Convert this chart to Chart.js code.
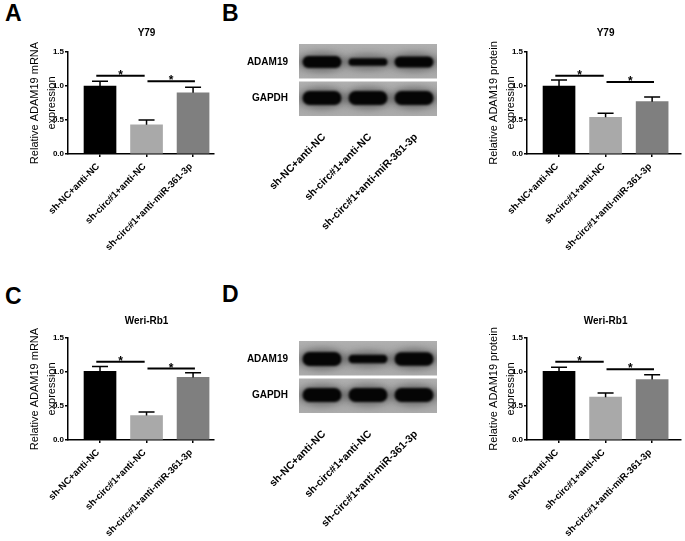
<!DOCTYPE html>
<html lang="en">
<head>
<meta charset="UTF-8">
<title>ADAM19 expression</title>
<style>
  body { margin: 0; background: #fff; width: 685px; height: 541px; position: relative; overflow: hidden; font-family: "Liberation Sans", Arial, sans-serif; }
  canvas { position: absolute; }
  .tag { position: absolute; font-weight: bold; font-size: 23px; line-height: 23px; color: #000; }
</style>
<script src="https://cdn.jsdelivr.net/npm/chart.js"></script>
</head>
<body>
<div class="tag" style="left:5px; top:2px;">A</div>
<div class="tag" style="left:222px; top:2px;">B</div>
<div class="tag" style="left:5px; top:285px;">C</div>
<div class="tag" style="left:222px; top:283px;">D</div>

<canvas id="chartA" width="230" height="265" style="left:0; top:0;"></canvas>
<canvas id="blotB" width="230" height="210" style="left:220px; top:30px;"></canvas>
<canvas id="chartB" width="226" height="265" style="left:459px; top:0;"></canvas>
<canvas id="chartC" width="230" height="265" style="left:0; top:286px;"></canvas>
<canvas id="blotD" width="230" height="210" style="left:220px; top:327px;"></canvas>
<canvas id="chartD" width="226" height="265" style="left:459px; top:286px;"></canvas>

<script>
// groups and tick labels
const groups = ['sh-NC+anti-NC', 'sh-circ#1+anti-NC', 'sh-circ#1+anti-miR-361-3p'];
const yTicks = [0, 0.5, 1.0, 1.5];
const barColors = ['#000000', '#a9a9a9', '#7f7f7f'];

// Y79
const y79Mrna = [1.00, 0.43, 0.90];
const y79MrnaSem = [0.07, 0.07, 0.08];
const y79MrnaSig = [1.15, 1.07];
const y79Protein = [1.00, 0.54, 0.77];
const y79ProteinSem = [0.09, 0.06, 0.07];
const y79ProteinSig = [1.15, 1.06];

// Weri-Rb1
const weriMrna = [1.01, 0.36, 0.92];
const weriMrnaSem = [0.07, 0.05, 0.07];
const weriMrnaSig = [1.15, 1.05];
const weriProtein = [1.01, 0.63, 0.89];
const weriProteinSem = [0.06, 0.06, 0.07];
const weriProteinSig = [1.15, 1.04];

// western blot rows and band strength per lane
const blotRows = ['ADAM19', 'GAPDH'];
const y79Adam19Band = [0.85, 0.55, 0.8];
const y79GapdhBand = [1.0, 1.0, 1.0];
const weriAdam19Band = [1.0, 0.6, 0.95];
const weriGapdhBand = [1.0, 1.0, 1.0];

// comparison brackets: [from, to] in group units
const sigSpans = [[-0.08, 0.96], [1.02, 2.04]];

const FONT = '"Liberation Sans", Arial, sans-serif';
Chart.defaults.font.family = FONT;
Chart.defaults.color = '#000';

const barExtras = {
    id: 'barExtras',
    afterDatasetsDraw(chart, args, o) {
        const { ctx, chartArea, scales: { x, y } } = chart;
        ctx.save();
        ctx.strokeStyle = '#000';
        ctx.lineWidth = 1.5;
        // error bars (upper only)
        o.values.forEach((v, i) => {
            const cx = x.getPixelForValue(i);
            const base = y.getPixelForValue(v);
            const top = y.getPixelForValue(v + o.sem[i]);
            ctx.beginPath();
            ctx.moveTo(cx, base);
            ctx.lineTo(cx, top);
            ctx.moveTo(cx - 8, top);
            ctx.lineTo(cx + 8, top);
            ctx.stroke();
        });
        // significance lines
        ctx.lineWidth = 2;
        ctx.fillStyle = '#000';
        ctx.textAlign = 'center';
        ctx.textBaseline = 'alphabetic';
        ctx.font = 'bold 12px ' + FONT;
        o.sig.forEach((h, k) => {
            const x1 = x.getPixelForValue(sigSpans[k][0]);
            const x2 = x.getPixelForValue(sigSpans[k][1]);
            const yy = y.getPixelForValue(h);
            ctx.beginPath();
            ctx.moveTo(x1, yy);
            ctx.lineTo(x2, yy);
            ctx.stroke();
            ctx.fillText('*', (x1 + x2) / 2, yy + 3);
        });
        // title centred over middle group
        ctx.font = 'bold 10px ' + FONT;
        ctx.textBaseline = 'middle';
        ctx.fillText(o.title, x.getPixelForValue(1), chartArea.top - o.titleGap);
        ctx.restore();
    }
};

function makeBarChart(id, title, yTitle, values, sem, sig, xMax, titleGap) {
    const ctx = document.getElementById(id).getContext('2d');
    return new Chart(ctx, {
        type: 'bar',
        data: {
            datasets: [{
                data: values.map((v, i) => ({ x: i, y: v })),
                backgroundColor: barColors,
                borderWidth: 0,
                barThickness: 32
            }]
        },
        options: {
            responsive: false,
            animation: false,
            layout: { padding: { left: 0, top: 52, right: ctx.canvas.width - 68 - xMax.px, bottom: 0 } },
            scales: {
                x: {
                    type: 'linear',
                    offset: false,
                    min: -0.688,
                    max: xMax.v,
                    afterBuildTicks: s => { s.ticks = groups.map((g, i) => ({ value: i })); },
                    afterFit: s => { s.height = ctx.canvas.height - 154; },
                    ticks: {
                        callback: v => groups[v],
                        autoSkip: false,
                        minRotation: 45,
                        maxRotation: 45,
                        padding: 4,
                        labelOffset: -2,
                        font: { size: 9.5, weight: 'bold' }
                    },
                    grid: { drawOnChartArea: false, offset: false, tickLength: 3, color: '#000', lineWidth: 1.5 },
                    border: { display: true, color: '#000', width: 1.5 }
                },
                y: {
                    min: 0,
                    max: 1.5,
                    afterBuildTicks: s => { s.ticks = yTicks.map(v => ({ value: v })); },
                    afterFit: s => { s.width = 68; },
                    ticks: {
                        callback: v => v.toFixed(1),
                        padding: 1,
                        font: { size: 8, weight: 'bold' }
                    },
                    grid: { drawOnChartArea: false, tickLength: 3, color: '#000', lineWidth: 1.5 },
                    border: { display: true, color: '#000', width: 1.5 },
                    title: {
                        display: true,
                        text: yTitle,
                        font: { size: 11, lineHeight: 1.5 },
                        padding: { top: 27, bottom: 0 }
                    }
                }
            },
            plugins: {
                legend: { display: false },
                tooltip: { enabled: false },
                barExtras: { values: values, sem: sem, sig: sig, title: title, titleGap: titleGap }
            }
        },
        plugins: [barExtras]
    });
}

const blotDraw = {
    id: 'blotDraw',
    beforeDatasetsDraw(chart, args, o) {
        const { ctx, chartArea: a, scales: { x, y } } = chart;
        const mid = (a.top + a.bottom) / 2;
        ctx.save();
        [[a.top, mid - 1.5], [mid + 1.5, a.bottom]].forEach(([t, b]) => {
            const g = ctx.createLinearGradient(0, t, 0, b);
            g.addColorStop(0, '#b0b0b0');
            g.addColorStop(0.5, '#a0a0a0');
            g.addColorStop(1, '#acacac');
            ctx.fillStyle = g;
            ctx.fillRect(a.left, t, a.right - a.left, b - t);
        });
        o.bands.forEach((row, r) => {
            const t = r === 0 ? a.top : mid + 1.5;
            const b = r === 0 ? mid - 1.5 : a.bottom;
            ctx.save();
            ctx.beginPath();
            ctx.rect(a.left, t, a.right - a.left, b - t);
            ctx.clip();
            row.forEach((k, i) => {
                const cx = x.getPixelForValue(i);
                const cy = y.getPixelForValue(r);
                const h = 14 * k;
                ctx.filter = 'blur(3px)';
                ctx.fillStyle = 'rgba(40,40,40,0.4)';
                ctx.beginPath();
                ctx.ellipse(cx, cy, 24, h / 2 + 4, 0, 0, Math.PI * 2);
                ctx.fill();
                ctx.filter = 'blur(1.2px)';
                ctx.fillStyle = '#050505';
                ctx.beginPath();
                ctx.roundRect(cx - 19.5, cy - h / 2, 39, h, h / 2);
                ctx.fill();
            });
            ctx.restore();
        });
        ctx.restore();
    }
};

function makeBlot(id, adam, gapdh) {
    const ctx = document.getElementById(id).getContext('2d');
    return new Chart(ctx, {
        type: 'bar',
        data: { labels: groups, datasets: [] },
        options: {
            responsive: false,
            animation: false,
            layout: { padding: { left: 0, top: 14, right: 13, bottom: 0 } },
            scales: {
                x: {
                    type: 'category',
                    labels: groups,
                    offset: true,
                    afterFit: s => { s.height = ctx.canvas.height - 86; },
                    ticks: {
                        autoSkip: false,
                        minRotation: 45,
                        maxRotation: 45,
                        padding: 7,
                        labelOffset: 2,
                        font: { size: 10.5, weight: 'bold' }
                    },
                    grid: { display: false },
                    border: { display: false }
                },
                y: {
                    type: 'category',
                    labels: blotRows,
                    offset: true,
                    afterFit: s => { s.width = 79; },
                    ticks: { padding: 3, font: { size: 10, weight: 'bold' } },
                    grid: { display: false },
                    border: { display: false }
                }
            },
            plugins: {
                legend: { display: false },
                tooltip: { enabled: false },
                blotDraw: { bands: [adam, gapdh] }
            }
        },
        plugins: [blotDraw]
    });
}

makeBarChart('chartA', 'Y79', ['Relative ADAM19 mRNA', 'expression'], y79Mrna, y79MrnaSem, y79MrnaSig, { v: 2.45, px: 146 }, 19);
makeBarChart('chartB', 'Y79', ['Relative ADAM19 protein', 'expression'], y79Protein, y79ProteinSem, y79ProteinSig, { v: 2.62, px: 154 }, 19);
makeBarChart('chartC', 'Weri-Rb1', ['Relative ADAM19 mRNA', 'expression'], weriMrna, weriMrnaSem, weriMrnaSig, { v: 2.45, px: 146 }, 17);
makeBarChart('chartD', 'Weri-Rb1', ['Relative ADAM19 protein', 'expression'], weriProtein, weriProteinSem, weriProteinSig, { v: 2.62, px: 154 }, 17);
makeBlot('blotB', y79Adam19Band, y79GapdhBand);
makeBlot('blotD', weriAdam19Band, weriGapdhBand);
</script>
</body>
</html>
